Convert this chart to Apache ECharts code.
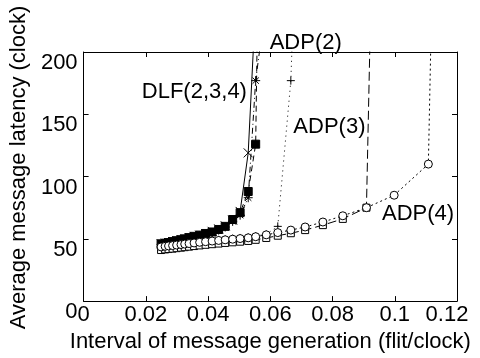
<!DOCTYPE html>
<html>
<head>
<meta charset="utf-8">
<script src="https://cdn.jsdelivr.net/npm/echarts@6/dist/echarts.min.js"></script>
<style>html,body{margin:0;padding:0;background:#fff}#c{width:480px;height:358px}</style>
</head>
<body>
<div id="c"></div>
<script>
// Interval of message generation (x)
const xRates = [0.0249,0.0262,0.0273,0.0286,0.0299,0.0313,0.0325,0.0339,0.0355,0.0373,0.0392,0.0413,0.0434,0.0455,0.0479,0.0503,0.0529,0.0553,0.0587,0.0624,0.0666,0.0712,0.0769,0.0833,0.0909,0.0998,0.1108,0.125];
// Average message latency
const dlf2 = [46,46.5,47,47.8,48.5,49.3,50,51,52,53,54.3,56,58,60.5,65,72,119,240];
const dlf3 = [46,46.5,47,47.8,48.5,49.3,50,51,52,53,54.3,55.5,57.5,60,65.5,71,88,126,730];
const dlf4 = [45.5,46,46.6,47.3,48,48.8,49.5,50.5,51.5,52.5,53.8,55,57,59.5,64,69,83,177,242];
const adp2 = [44,44.5,44.8,45.1,45.5,45.9,46.3,46.7,47.2,47.7,48.2,48.7,49.2,49.7,50.2,50.7,51.3,52.2,53.7,60,177,508];
const adp3 = [41,41.5,41.8,42.1,42.5,42.9,43.3,43.7,44.2,44.7,45.2,45.7,46.2,46.7,47.2,47.7,48.3,49.2,50.7,52.5,54.5,57,61,66,75,1133];
const adp4 = [43.5,44,44.3,44.6,45,45.4,45.8,46.2,46.7,47.2,47.7,48.2,48.7,49.2,49.7,50.2,50.8,51.7,53.2,55,57,59.5,63.5,68.5,75,85,110,1860];
const xTickLabels = ['0','0.02','0.04','0.06','0.08','0.1','0.12'];
const yTickLabels = ['0','50','100','150','200'];
const annotations = [
  {text:'DLF(2,3,4)', x:0.0187, y:168},
  {text:'ADP(2)', x:0.0598, y:207},
  {text:'ADP(3)', x:0.0674, y:140},
  {text:'ADP(4)', x:0.0959, y:69.6}
];

const FONT = "'Liberation Sans', Arial, sans-serif";
const FS = 22;
const pairs = vals => vals.map((v,i)=>[xRates[i], v]);
const crossP = 'path://M0,0L10,10M10,0L0,10';
const plusP = 'path://M5,0L5,10M0,5L10,5';
const starP = 'path://M5,0L5,10M0,5L10,5M1.5,1.5L8.5,8.5M8.5,1.5L1.5,8.5';

function mk(name, vals, symbol, size, fill, ltype) {
  return {
    name, type:'line', data: pairs(vals), symbol, symbolSize: size,
    showSymbol:true, showAllSymbol:true, clip:true,
    lineStyle:{color:'#000', width:1, type:ltype},
    itemStyle:{color:fill, borderColor:'#000', borderWidth:1},
    emphasis:{disabled:true}
  };
}
const axLine = {show:true, onZero:false, lineStyle:{color:'#000', width:1}};
const axTick = {show:true, inside:true, length:5, lineStyle:{color:'#000'}};

const chart = echarts.init(document.getElementById('c'), null, {renderer:'canvas'});
const xIdx = v => Math.round(v/0.02);
const yIdx = v => Math.round(v/50);
chart.setOption({
  animation:false,
  textStyle:{fontFamily:FONT},
  grid:{left:78, right:23, top:52, bottom:56},
  xAxis:[{
    type:'value', min:0, max:0.12, interval:0.02, position:'bottom',
    axisLine:axLine, axisTick:axTick, splitLine:{show:false},
    axisLabel:{color:'#000', fontSize:FS, fontFamily:FONT, margin:3,
      formatter: v => { const i = xIdx(v); return i===6 ? '{r|'+xTickLabels[i]+'}' : xTickLabels[i]; },
      rich:{r:{fontSize:FS, fontFamily:FONT, color:'#000', padding:[0,20,0,0]}}},
    name:'Interval of message generation (flit/clock)', nameLocation:'middle', nameGap:21,
    nameTextStyle:{color:'#000', fontSize:FS, fontFamily:FONT}
  },{
    type:'value', min:0, max:0.12, interval:0.02, position:'top',
    axisLine:axLine, axisTick:axTick,
    axisLabel:{show:false}, splitLine:{show:false}
  }],
  yAxis:[{
    type:'value', min:0, max:200, interval:50, position:'left',
    axisLine:axLine, axisTick:axTick, splitLine:{show:false},
    axisLabel:{color:'#000', fontSize:FS, fontFamily:FONT, margin:6, verticalAlign:'top',
      formatter: v => yTickLabels[yIdx(v)]},
    name:'Average message latency (clock)', nameLocation:'middle', nameGap:48,
    nameTextStyle:{color:'#000', fontSize:FS, fontFamily:FONT, padding:[0,0,0,18]}
  },{
    type:'value', min:0, max:200, interval:50, position:'right',
    axisLine:axLine, axisTick:axTick,
    axisLabel:{show:false}, splitLine:{show:false}
  }],
  series:[
    mk('DLF(2)', dlf2, crossP, 9, 'none', 'solid'),
    mk('DLF(3)', dlf3, 'rect', 8, '#000', [6,4]),
    mk('DLF(4)', dlf4, starP, 9, 'none', [6,3,1,3]),
    mk('ADP(2)', adp2, plusP, 8, 'none', [1,4]),
    mk('ADP(3)', adp3, 'rect', 7, '#fff', [9,4]),
    mk('ADP(4)', adp4, 'circle', 8, '#fff', [2,3])
  ]
});

const gfx = annotations.map(a => {
  const p = chart.convertToPixel({xAxisIndex:0, yAxisIndex:0}, [a.x, a.y]);
  return {type:'text', x:p[0], y:p[1], z:100,
    style:{text:a.text, fill:'#000', font: FS+'px '+FONT, textAlign:'left', textVerticalAlign:'middle'}};
});
chart.setOption({graphic: gfx});
</script>
</body>
</html>
